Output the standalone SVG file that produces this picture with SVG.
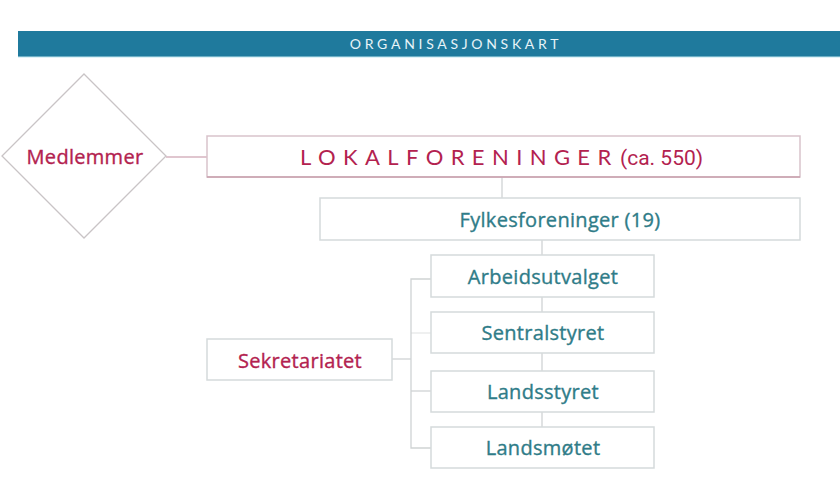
<svg xmlns="http://www.w3.org/2000/svg" width="840" height="490" viewBox="0 0 840 490">
<style>
.box{fill:#fff;stroke:#d5dadb;stroke-width:1.5}
.pbox{fill:#fff;stroke:#d9c3cb;stroke-width:1.5}
.line{stroke:#cfd3d4;stroke-width:1.3;fill:none}
.pline{stroke:#d6b3bf;stroke-width:1.5;fill:none}
.pink{fill:#b3224f;stroke:#b3224f;stroke-width:0.35;font-family:"Open Sans","Liberation Sans",sans-serif;font-size:20px;letter-spacing:0.3px;text-anchor:middle}
.teal{fill:#2f7c88;stroke:#2f7c88;stroke-width:0.35;font-family:"Open Sans","Liberation Sans",sans-serif;font-size:20px;letter-spacing:0.3px;text-anchor:middle}
</style>
<rect width="840" height="490" fill="#fff"/>
<g id="header">
<rect x="18" y="31" width="822" height="26" fill="#1f7a9d"/>
<line x1="18" y1="57" x2="840" y2="57" stroke="#bfe6ef" stroke-width="1"/>
<text x="456" y="49" fill="#e8f4f8" font-family="Lato,'Liberation Sans',sans-serif" font-size="14" letter-spacing="3.7" text-anchor="middle">ORGANISASJONSKART</text>
</g>
<g id="connectors">
<line class="pline" x1="166" y1="157" x2="207" y2="157"/>
<line class="line" x1="502" y1="177" x2="502" y2="198"/>
<line class="line" x1="542" y1="240" x2="542" y2="427"/>
<polyline class="line" points="392,359 411,359"/>
<polyline class="line" points="431,279 411,279 411,448 431,448"/>
<line class="line" x1="411" y1="333" x2="431" y2="333" stroke-opacity="0.5"/>
<line class="line" x1="411" y1="391" x2="431" y2="391"/>
</g>
<g id="medlemmer">
<polygon points="84,74 166,156 84,238 2,156" fill="#fff" stroke="#c9c4c6" stroke-width="1.3"/>
<text class="pink" x="85" y="164">Medlemmer</text>
</g>
<g id="lokalforeninger">
<rect class="pbox" x="207" y="136" width="593" height="41"/>
<line x1="207" y1="177" x2="800" y2="177" stroke="#c9a0ae" stroke-width="1.5"/>
<text x="300" y="165" fill="#b3224f" font-family="Lato,'Liberation Sans',sans-serif" font-size="22" letter-spacing="7.4">LOKALFORENINGER</text>
<text x="620" y="165" fill="#b3224f" font-family="Roboto,'Liberation Sans',sans-serif" font-size="21">(ca. 550)</text>
</g>
<g id="fylkesforeninger">
<rect class="box" x="320" y="198" width="480" height="42"/>
<text class="teal" x="560" y="227">Fylkesforeninger (19)</text>
</g>
<g id="arbeidsutvalget">
<rect class="box" x="431" y="255" width="223" height="42"/>
<text class="teal" x="543" y="284">Arbeidsutvalget</text>
</g>
<g id="sentralstyret">
<rect class="box" x="431" y="312" width="223" height="41"/>
<text class="teal" x="543" y="340">Sentralstyret</text>
</g>
<g id="landsstyret">
<rect class="box" x="431" y="371" width="223" height="41"/>
<text class="teal" x="543" y="399">Landsstyret</text>
</g>
<g id="landsmotet">
<rect class="box" x="431" y="427" width="223" height="41"/>
<text class="teal" x="543" y="455">Landsmøtet</text>
</g>
<g id="sekretariatet">
<rect class="box" x="207" y="339" width="185" height="41"/>
<text class="pink" x="300" y="368">Sekretariatet</text>
</g>
</svg>
